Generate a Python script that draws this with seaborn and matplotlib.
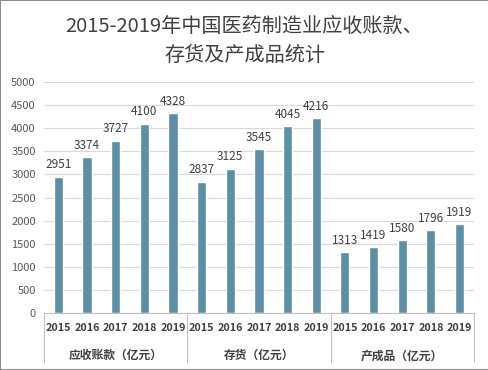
import pandas as pd
import numpy as np
import matplotlib.pyplot as plt
import matplotlib.transforms as mtransforms
import seaborn as sns

# data
years = ["2015", "2016", "2017", "2018", "2019"]
groups = ["应收账款（亿元）", "存货（亿元）", "产成品（亿元）"]
receivables = [2951, 3374, 3727, 4100, 4328]
inventory = [2837, 3125, 3545, 4045, 4216]
finished = [1313, 1419, 1580, 1796, 1919]

rows = []
for g, vals in zip(groups, [receivables, inventory, finished]):
    for y, v in zip(years, vals):
        rows.append({"group": g, "year": y, "key": g + y, "value": v})
df = pd.DataFrame(rows)

sns.set_style("white")
plt.rcParams["font.family"] = ["Noto Sans CJK SC", "DejaVu Sans"]

fig = plt.figure(figsize=(4.89, 3.70), dpi=100)
fig.patch.set_edgecolor("#8c8c8c")
fig.patch.set_linewidth(1.2)
ax = fig.add_axes([0.090, 0.154, 0.879, 0.624])

sns.barplot(data=df, x="key", y="value", color="#5B8FA5", saturation=1,
            width=0.32, ax=ax, order=list(df["key"]))

ax.set_ylim(0, 5000)
ax.set_yticks(np.arange(0, 5001, 500))
ax.yaxis.grid(True, color="#d9d9d9", linewidth=0.8)
ax.set_axisbelow(True)
ax.tick_params(axis="y", labelsize=8, colors="#595959", length=0, pad=6)
for s in ["left", "top", "right"]:
    ax.spines[s].set_visible(False)
ax.spines["bottom"].set_color("#bfbfbf")
ax.set_xlabel("")
ax.set_ylabel("")

ax.set_xticks(range(len(df)))
ax.set_xticklabels(df["year"], fontsize=7.8, fontweight="bold", color="#404040")
ax.tick_params(axis="x", length=0, pad=7)
ax.set_xlim(-0.5, len(df) - 0.5)

for c in ax.containers:
    ax.bar_label(c, fontsize=8.5, color="#404040", padding=4)

# category group labels and separators
trans = mtransforms.blended_transform_factory(ax.transData, ax.transAxes)
n = len(years)
for i in range(len(groups) + 1):
    xs = i * n - 0.5
    ax.plot([xs, xs], [0, -0.21], color="#bfbfbf", linewidth=0.8,
            transform=trans, clip_on=False)
for i, g in enumerate(groups):
    ax.text(i * n + (n - 1) / 2, -0.185, g, transform=trans, ha="center",
            va="center", fontsize=8.5, fontweight="bold", color="#404040")

fig.text(0.5, 0.928, "2015-2019年中国医药制造业应收账款、", ha="center",
         va="center", fontsize=14.5, color="#404040")
fig.text(0.5, 0.850, "存货及产成品统计", ha="center", va="center",
         fontsize=14.5, color="#404040")

fig.savefig("out.png", dpi=100, edgecolor=fig.get_edgecolor())
